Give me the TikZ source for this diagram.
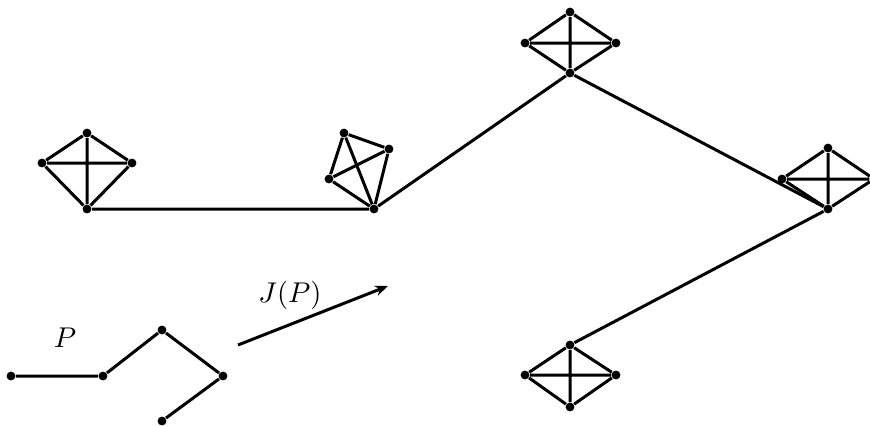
\documentclass[tikz,border=0pt]{standalone}
\usetikzlibrary{arrows.meta}
\tikzset{
  vtx/.style={circle,fill=black,inner sep=0pt,minimum size=3.1pt},
  edge/.style={line width=1.05pt},
}
\begin{document}
\begin{tikzpicture}[x=0.35pt,y=-0.35pt]
\useasboundingbox (0,0) rectangle (870,425);

% first clique K4
\node[vtx] (a1) at (87,133) {};
\node[vtx] (a2) at (42,163) {};
\node[vtx] (a3) at (132,163) {};
\node[vtx] (a4) at (87,209) {};
% second clique (skewed)
\node[vtx] (b1) at (344,133) {};
\node[vtx] (b2) at (389,149) {};
\node[vtx] (b3) at (329,179) {};
\node[vtx] (b4) at (374,209) {};
% top clique
\node[vtx] (c1) at (570,12) {};
\node[vtx] (c2) at (525,43) {};
\node[vtx] (c3) at (616,43) {};
\node[vtx] (c4) at (570,73) {};
% right clique
\node[vtx] (d1) at (828,148) {};
\node[vtx] (d2) at (782,179) {};
\node[vtx] (d3) at (874,179) {};
\node[vtx] (d4) at (828,209) {};
% bottom clique
\node[vtx] (e1) at (570,345) {};
\node[vtx] (e2) at (525,375) {};
\node[vtx] (e3) at (616,375) {};
\node[vtx] (e4) at (570,407) {};

\foreach \k in {a,b,c,d,e}{
  \draw[edge] (\k1) -- (\k2) (\k1) -- (\k3) (\k1) -- (\k4)
              (\k2) -- (\k3) (\k2) -- (\k4) (\k3) -- (\k4);
}

% path joining the cliques
\draw[edge] (a4) -- (b4) -- (c4) -- (d4) -- (e1);

% the path P
\node[vtx] (p1) at (11,376) {};
\node[vtx] (p2) at (103,376) {};
\node[vtx] (p3) at (162,330) {};
\node[vtx] (p4) at (223,376) {};
\node[vtx] (p5) at (162,421) {};
\draw[edge] (p1) -- (p2) -- (p3) -- (p4) -- (p5);
\node (lp) at (65,338) {$P$};

% the map J
\coordinate (j0) at (238,345);
\coordinate (j1) at (388,286);
\draw[edge,-{Stealth[length=4.5pt,width=3.6pt]}] (j0) -- (j1);
\node (lj) at (290,295) {$J(P)$};
\end{tikzpicture}
\end{document}
